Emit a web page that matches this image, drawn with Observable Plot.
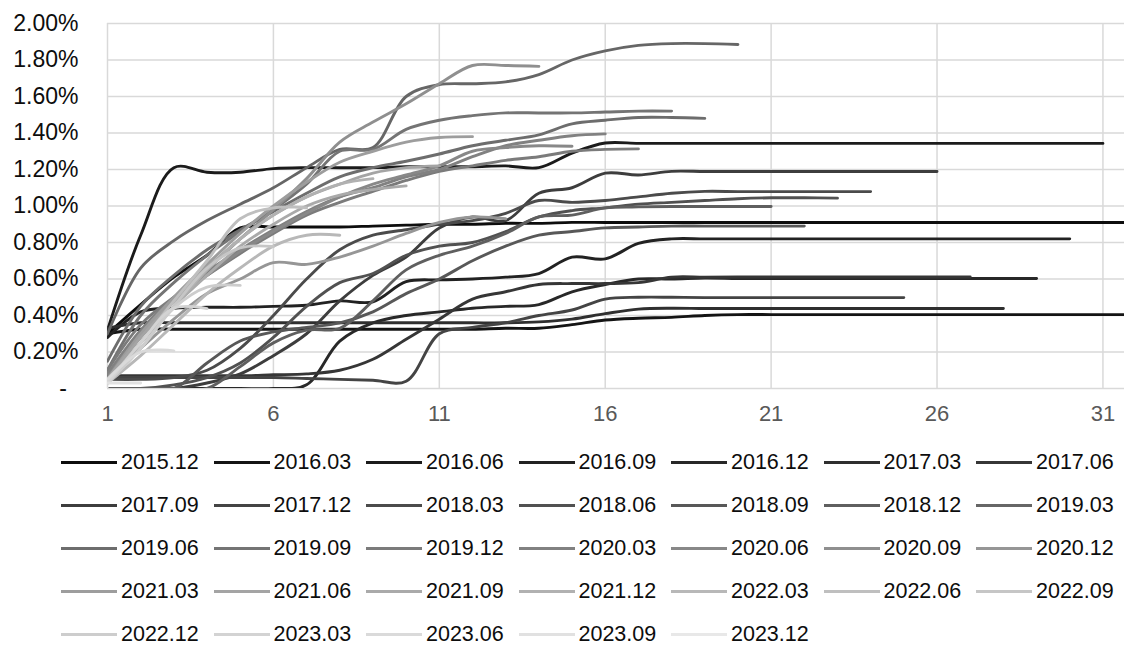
<!DOCTYPE html>
<html><head><meta charset="utf-8">
<script src="https://cdn.jsdelivr.net/npm/d3@7"></script>
<script src="https://cdn.jsdelivr.net/npm/@observablehq/plot@0.6"></script>
<style>
body{margin:0;background:#fff;font-family:"Liberation Sans",Arial,sans-serif;}
#wrap{position:relative;width:1124px;height:645px;overflow:hidden;background:#fff;}
#legend{position:absolute;left:0;top:0;width:1124px;height:645px;pointer-events:none;}
.item{position:absolute;display:flex;align-items:center;height:20px;font-size:21.5px;line-height:20px;color:#0d0d0d;white-space:nowrap;}
.sw{width:56px;height:3px;margin-right:4px;}
</style></head><body><div id="wrap"><div id="legend"></div></div>
<script>
const seriesNames = ["2015.12","2016.03","2016.06","2016.09","2016.12","2017.03","2017.06","2017.09","2017.12","2018.03","2018.06","2018.09","2018.12","2019.03","2019.06","2019.09","2019.12","2020.03","2020.06","2020.09","2020.12","2021.03","2021.06","2021.09","2021.12","2022.03","2022.06","2022.09","2022.12","2023.03","2023.06","2023.09","2023.12"];

// values in %, index j -> period j+1
const seriesValues = [
  [0.30,0.46,0.61,0.73,0.88,0.885,0.885,0.885,0.89,0.895,0.90,0.90,0.905,0.905,0.91,0.91,0.91,0.91,0.91,0.91,0.91,0.91,0.91,0.91,0.91,0.91,0.91,0.91,0.91,0.91,0.91,0.91,0.91],
  [0.30,0.325,0.325,0.325,0.325,0.325,0.325,0.325,0.325,0.325,0.325,0.325,0.33,0.33,0.35,0.375,0.385,0.39,0.40,0.405,0.405,0.405,0.405,0.405,0.405,0.405,0.405,0.405,0.405,0.405,0.405,0.405],
  [0.32,0.84,1.21,1.185,1.185,1.205,1.21,1.21,1.21,1.215,1.215,1.215,1.22,1.21,1.29,1.345,1.343,1.343,1.343,1.343,1.343,1.343,1.343,1.343,1.343,1.343,1.343,1.343,1.343,1.343,1.343],
  [0.28,0.42,0.44,0.445,0.445,0.45,0.456,0.48,0.475,0.585,0.595,0.60,0.61,0.63,0.72,0.71,0.795,0.82,0.82,0.82,0.82,0.82,0.82,0.82,0.82,0.82,0.82,0.82,0.82,0.82],
  [0.0,0.0,0.0,0.0,0.0,0.0,0.02,0.26,0.36,0.40,0.42,0.44,0.45,0.46,0.53,0.57,0.60,0.60,0.605,0.603,0.603,0.603,0.603,0.603,0.603,0.603,0.603,0.603,0.603],
  [0.33,0.36,0.36,0.36,0.36,0.36,0.36,0.36,0.36,0.36,0.36,0.36,0.36,0.365,0.38,0.41,0.435,0.44,0.438,0.438,0.438,0.438,0.438,0.438,0.438,0.438,0.438,0.438],
  [0.07,0.07,0.07,0.07,0.07,0.075,0.08,0.10,0.16,0.27,0.38,0.49,0.53,0.57,0.575,0.575,0.58,0.61,0.61,0.611,0.611,0.611,0.611,0.611,0.611,0.611,0.611],
  [0.0,0.0,0.0,0.03,0.08,0.18,0.30,0.48,0.62,0.72,0.88,0.94,0.92,1.07,1.10,1.18,1.17,1.19,1.189,1.189,1.189,1.189,1.189,1.189,1.189,1.189],
  [0.06,0.06,0.06,0.06,0.06,0.06,0.055,0.05,0.045,0.04,0.30,0.335,0.36,0.40,0.43,0.49,0.50,0.50,0.498,0.498,0.498,0.498,0.498,0.498,0.498],
  [0.05,0.05,0.06,0.10,0.22,0.40,0.60,0.76,0.84,0.87,0.90,0.92,0.96,1.03,1.02,1.03,1.05,1.07,1.08,1.079,1.079,1.079,1.079,1.079],
  [0.0,0.0,0.02,0.06,0.14,0.28,0.45,0.58,0.63,0.73,0.78,0.80,0.86,0.94,0.975,0.99,1.01,1.02,1.03,1.04,1.045,1.045,1.043],
  [0.0,0.0,0.0,0.14,0.26,0.31,0.335,0.36,0.42,0.52,0.60,0.70,0.78,0.84,0.86,0.88,0.885,0.89,0.89,0.89,0.89,0.89],
  [0.0,0.0,0.0,0.0,0.12,0.25,0.32,0.33,0.48,0.65,0.73,0.78,0.85,0.94,0.95,0.99,0.995,0.997,0.997,0.997,0.997],
  [0.30,0.66,0.81,0.92,1.01,1.10,1.21,1.31,1.32,1.60,1.665,1.67,1.68,1.72,1.80,1.85,1.88,1.89,1.89,1.885],
  [0.15,0.45,0.62,0.76,0.87,0.97,1.07,1.16,1.21,1.245,1.285,1.33,1.36,1.39,1.45,1.47,1.485,1.485,1.48],
  [0.10,0.40,0.58,0.73,0.86,0.98,1.12,1.30,1.31,1.42,1.47,1.495,1.51,1.51,1.51,1.515,1.52,1.52],
  [0.10,0.35,0.50,0.62,0.74,0.85,0.95,1.02,1.08,1.14,1.19,1.22,1.25,1.27,1.30,1.31,1.313],
  [0.08,0.32,0.50,0.64,0.76,0.87,0.97,1.05,1.10,1.16,1.20,1.27,1.33,1.36,1.385,1.395],
  [0.06,0.30,0.48,0.62,0.75,0.86,0.96,1.05,1.12,1.17,1.22,1.30,1.32,1.33,1.327],
  [0.05,0.28,0.48,0.65,0.82,0.98,1.15,1.35,1.46,1.56,1.67,1.77,1.77,1.765],
  [0.05,0.22,0.38,0.52,0.60,0.69,0.68,0.72,0.78,0.85,0.91,0.94,0.93],
  [0.05,0.30,0.50,0.68,0.85,1.00,1.13,1.24,1.30,1.35,1.375,1.38],
  [0.05,0.28,0.48,0.66,0.82,0.95,1.05,1.12,1.18,1.21,1.22],
  [0.04,0.25,0.45,0.62,0.78,0.90,1.00,1.06,1.09,1.11],
  [0.04,0.25,0.45,0.65,0.82,0.95,1.05,1.12,1.15],
  [0.03,0.18,0.35,0.52,0.66,0.78,0.84,0.84],
  [0.03,0.25,0.48,0.70,0.93,0.99,0.99],
  [0.03,0.22,0.45,0.66,0.77,0.778],
  [0.03,0.22,0.44,0.555,0.565],
  [0.03,0.25,0.44,0.438],
  [0.05,0.20,0.206],
  [0.03,0.03],
  [0.0]
];

const yTicks = [0,0.2,0.4,0.6,0.8,1.0,1.2,1.4,1.6,1.8,2.0];
const xTicks = [1,6,11,16,21,26,31];

const n = seriesNames.length;
const grays = seriesNames.map((_, i) => {
  const g = Math.round(13 + i * (232 - 13) / (n - 1));
  return `rgb(${g},${g},${g})`;
});

const rows = seriesNames.flatMap((name, i) => seriesValues[i].map((v, j) => ({name, x: j + 1, v})));

const font = '"Liberation Sans", Arial, sans-serif';

const chart = Plot.plot({
  width: 1124,
  height: 440,
  marginLeft: 107,
  marginRight: 0,
  marginTop: 23,
  marginBottom: 52,
  style: {fontFamily: font, fontSize: "22px", background: "white", overflow: "visible"},
  x: {domain: [1, 31.65], label: null},
  y: {domain: [0, 2], label: null},
  color: {domain: seriesNames, range: grays},
  marks: [
    Plot.ruleY(yTicks, {y: d => d, stroke: "#d9d9d9", strokeWidth: 1.5}),
    Plot.ruleX(xTicks, {x: d => d, stroke: "#d9d9d9", strokeWidth: 1.5}),
    Plot.axisX({ticks: xTicks, tickSize: 0, tickPadding: 17, tickFormat: d => String(d), fill: "#595959", fontSize: 22, label: null}),
    Plot.axisY({ticks: yTicks, tickSize: 0, tickPadding: 29, tickFormat: v => v === 0 ? "-\u2002" : v.toFixed(2) + "%", fill: "#0d0d0d", fontSize: 23, label: null}),
    Plot.line(rows, {x: "x", y: "v", z: "name", stroke: "name", strokeWidth: 2.9, curve: "catmull-rom", clip: true})
  ]
});

const wrap = document.getElementById("wrap");
wrap.insertBefore(chart, wrap.firstChild);

const legend = document.getElementById("legend");
seriesNames.forEach((name, i) => {
  const col = i % 7, row = Math.floor(i / 7);
  const item = document.createElement("div");
  item.className = "item";
  item.style.left = (61 + col * 152.5) + "px";
  item.style.top = (462 + row * 43 - 10) + "px";
  const sw = document.createElement("div");
  sw.className = "sw";
  sw.style.background = grays[i];
  const t = document.createElement("span");
  t.textContent = name;
  item.appendChild(sw);
  item.appendChild(t);
  legend.appendChild(item);
});
</script></body></html>
